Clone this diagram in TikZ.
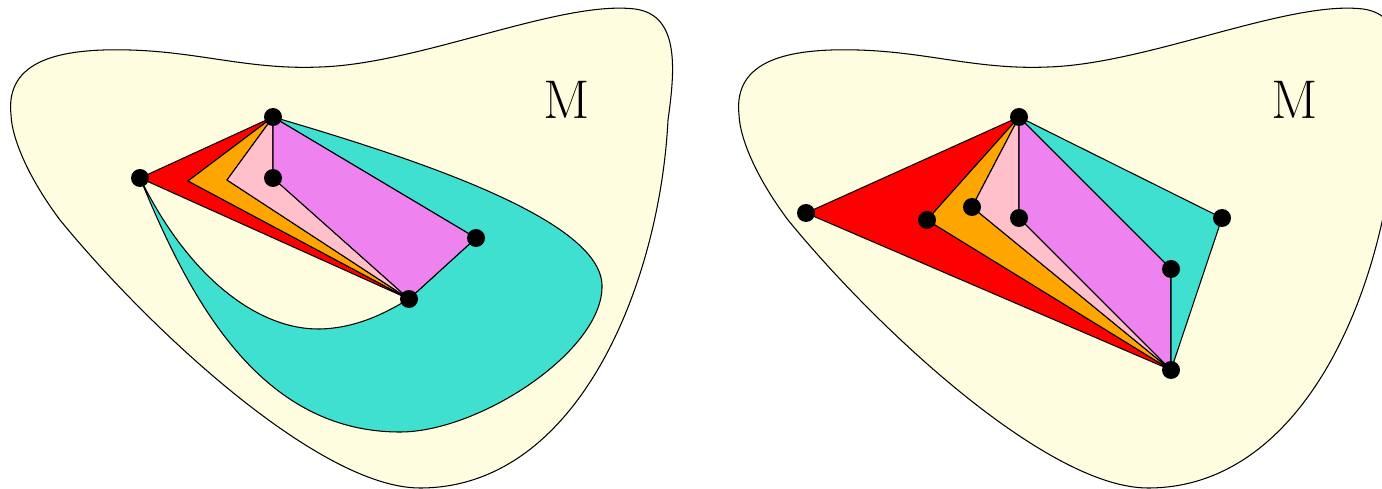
\documentclass[tikz,border=0pt]{standalone}
\usepackage{tikz}

\definecolor{blobyellow}{RGB}{255,253,224}
\definecolor{turq}{RGB}{64,224,208}
\definecolor{viol}{RGB}{238,130,238}
\definecolor{pinkish}{RGB}{255,192,203}
\definecolor{orng}{RGB}{255,165,0}

\begin{document}
\begin{tikzpicture}[
		x=0.02cm,
		y=-0.02cm,
		line width=0.6pt,
		every node/.style={font=\fontsize{31}{36}\selectfont},
		vertex/.style={circle, fill=black, inner sep=0pt, minimum size=0.36cm},
		patch/.style={draw=black, line join=round}
		]
		
		\def\BlobShift{728}
		
		\useasboundingbox (0,0) rectangle (1382,489);
		
		% The manifold M, once for each copy.
		\foreach \Shift in {0,\BlobShift}{
			\filldraw[fill=blobyellow, draw=black, shift={(\Shift,0)}]
			(11,115) .. controls (5,60) and (60,48) .. (130,50)
			.. controls (200,52) and (250,70) .. (320,67)
			.. controls (420,64) and (560,0) .. (635,9)
			.. controls (680,15) and (675,70) .. (668,120)
			.. controls (660,280) and (580,488) .. (420,488)
			.. controls (320,488) and (150,330) .. (60,220)
			.. controls (30,180) and (12,140) .. (11,115) -- cycle;
			\node (label\Shift) at ({\Shift+567},100) {M};
		}
		
		% Vertices of the first copy.
		\coordinate (lA) at (273,117);
		\coordinate (lB) at (140,178);
		\coordinate (lC) at (273,178);
		\coordinate (lD) at (476,238);
		\coordinate (lE) at (409,299);
		\coordinate (lP) at (188,181);
		\coordinate (lQ) at (227,180);
		
		% Turquoise band going round the hole.
		\filldraw[patch, fill=turq]
		(lA) .. controls (420,160) and (600,220) .. (602,285)
		.. controls (604,350) and (480,432) .. (400,432)
		.. controls (260,432) and (190,300) .. (lB)
		.. controls (190,280) and (260,330) .. (320,329)
		.. controls (360,328) and (390,310) .. (lE)
		-- (lD) -- cycle;
		
		\filldraw[patch, fill=red] (lA) -- (lB) -- (lE) -- (lP) -- cycle;
		\filldraw[patch, fill=orng] (lA) -- (lP) -- (lE) -- (lQ) -- cycle;
		\filldraw[patch, fill=pinkish] (lA) -- (lQ) -- (lE) -- (lC) -- cycle;
		\filldraw[patch, fill=viol] (lA) -- (lC) -- (lE) -- (lD) -- cycle;
		
		\foreach \p in {lA,lB,lC,lD,lE}
		\node[vertex] (dot\p) at (\p) {};
		
		% Vertices of the second copy.
		\coordinate (rA) at (1019,117);
		\coordinate (rB) at (806,213);
		\coordinate (rP) at (927,220);
		\coordinate (rQ) at (972,207);
		\coordinate (rC) at (1019,218);
		\coordinate (rF) at (1171,269);
		\coordinate (rD) at (1222,218);
		\coordinate (rE) at (1171,370);
		
		\filldraw[patch, fill=red] (rA) -- (rB) -- (rE) -- (rP) -- cycle;
		\filldraw[patch, fill=orng] (rA) -- (rP) -- (rE) -- (rQ) -- cycle;
		\filldraw[patch, fill=pinkish] (rA) -- (rQ) -- (rE) -- (rC) -- cycle;
		\filldraw[patch, fill=viol] (rA) -- (rC) -- (rE) -- (rF) -- cycle;
		\filldraw[patch, fill=turq] (rA) -- (rF) -- (rE) -- (rD) -- cycle;
		
		\foreach \p in {rA,rB,rP,rQ,rC,rF,rD,rE}
		\node[vertex] (dot\p) at (\p) {};
		
	\end{tikzpicture}
\end{document}
